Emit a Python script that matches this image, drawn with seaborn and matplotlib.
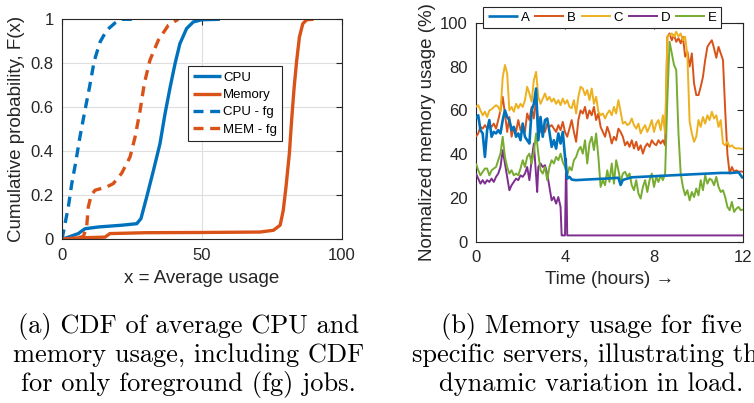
import numpy as np
import pandas as pd
import matplotlib
matplotlib.use("Agg")
import matplotlib.pyplot as plt
import seaborn as sns

# ---------------- data: (a) CDFs ----------------
CPU_X = [0, 2.3, 5.8, 8.2, 13.0, 21.3, 26.7, 28.2, 30.2, 32.6, 35.0, 36.8, 38.6, 40.4, 42.1, 44.5, 46.9, 49.9, 56.4]
CPU_F = [0, 0.01, 0.026, 0.048, 0.056, 0.064, 0.071, 0.094, 0.19, 0.31, 0.435, 0.571, 0.69, 0.80, 0.889, 0.958, 0.988, 0.998, 1.0]

MEM_X = [0, 5, 10, 15.4, 17.1, 30, 50, 70.7, 75.5, 77.9, 79.0, 80.0, 81.2, 82.0, 82.9, 83.8, 84.8, 86.0, 87.4, 89.8]
MEM_F = [0, 0.006, 0.008, 0.01, 0.026, 0.03, 0.031, 0.033, 0.041, 0.064, 0.13, 0.238, 0.39, 0.54, 0.69, 0.81, 0.92, 0.98, 0.998, 1.0]

CPUFG_X = [0, 1.07, 2.26, 3.45, 4.9, 6.4, 8.2, 9.8, 11.5, 13.6, 15.95, 18.9, 21.3, 27.3]
CPUFG_F = [0, 0.07, 0.147, 0.25, 0.35, 0.465, 0.586, 0.69, 0.81, 0.897, 0.95, 0.983, 1.0, 1.0]

MEMFG_X = [0, 4, 7.6, 8.8, 9.4, 10.4, 11.8, 15.95, 18.3, 21.3, 24.3, 26.1, 27.9, 29.4, 31.4, 34.4, 37.98, 41.5]
MEMFG_F = [0, 0.005, 0.012, 0.056, 0.147, 0.2, 0.223, 0.238, 0.253, 0.3, 0.374, 0.465, 0.586, 0.708, 0.814, 0.905, 0.973, 1.0]

CDF_LABELS = ["CPU", "Memory", "CPU - fg", "MEM - fg"]

# ---------------- data: (b) memory usage of five servers ----------------
HOURS = [0.0, 0.1, 0.2, 0.3, 0.4, 0.5, 0.6, 0.7, 0.8, 0.9,
         1.0, 1.1, 1.2, 1.3, 1.4, 1.5, 1.6, 1.7, 1.8, 1.9,
         2.0, 2.1, 2.2, 2.3, 2.4, 2.5, 2.6, 2.7, 2.8, 2.9,
         3.0, 3.1, 3.2, 3.3, 3.4, 3.5, 3.6, 3.7, 3.8, 3.9,
         4.0, 4.1, 4.2, 4.3, 4.4, 4.5, 4.6, 4.7, 4.8, 4.9,
         5.0, 5.1, 5.2, 5.3, 5.4, 5.5, 5.6, 5.7, 5.8, 5.9,
         6.0, 6.1, 6.2, 6.3, 6.4, 6.5, 6.6, 6.7, 6.8, 6.9,
         7.0, 7.1, 7.2, 7.3, 7.4, 7.5, 7.6, 7.7, 7.8, 7.9,
         8.0, 8.1, 8.2, 8.3, 8.4, 8.5, 8.6, 8.7, 8.8, 8.9,
         9.0, 9.1, 9.2, 9.3, 9.4, 9.5, 9.6, 9.7, 9.8, 9.9,
         10.0, 10.1, 10.2, 10.3, 10.4, 10.5, 10.6, 10.7, 10.8, 10.9,
         11.0, 11.1, 11.2, 11.3, 11.4, 11.5, 11.6, 11.7, 11.8, 11.9,
         12.0]

SERVER_B = [48, 49.5, 52.5, 51.7, 53.3, 51.7, 53.3, 52.5, 54, 51.7,
            55.6, 60, 66.2, 58.6, 50.2, 57, 48, 52.5, 50.2, 55.6,
            51, 53.3, 50.2, 58.6, 55.6, 61.6, 56.3, 64.7, 54, 50.2,
            51.7, 50.2, 54, 52.5, 53.3, 51.7, 50.2, 53.3, 51, 54.8,
            50.2, 48, 51.7, 55.6, 50.2, 45.7, 55.6, 60, 58.6, 61.6,
            56.3, 60, 57.8, 61.6, 55.6, 58.6, 52.5, 50.2, 48, 52.5,
            49.5, 44.9, 48, 46.4, 51.7, 50.2, 48, 44.1, 45.7, 43.4,
            46.4, 42.6, 45.7, 41.9, 44.1, 40.3, 43.4, 44.9, 43.4, 46.4,
            44.9, 44.1, 46.4, 44.9, 46.4, 44.1, 93.6, 95.1, 92, 94.4,
            91.3, 92.9, 90.6, 93.6, 84.5, 86.8, 80, 86, 72.3, 67,
            67, 70.8, 75.3, 83, 89, 90.6, 92, 88.3, 84, 89,
            86, 83, 60, 40, 31.2, 34.2, 32, 32.7, 32, 32.2,
            32]

SERVER_C = [61.6, 62.4, 60, 57.8, 59.4, 57, 60, 60.5, 61.5, 62.4,
            61.6, 59.4, 75, 80.7, 76.9, 60, 61.6, 59.4, 63, 61,
            63, 61.6, 64.7, 70.8, 67.7, 64, 73.8, 77.6, 66.2, 63,
            65.4, 67.7, 64.7, 66.2, 64, 65.4, 63, 64.7, 62.4, 65.4,
            63, 64.7, 61.6, 61, 64.7, 58.6, 66.2, 70.8, 70, 67,
            69.3, 64.7, 70, 63, 66.2, 59.4, 57.8, 58.6, 56.3, 58.6,
            60, 57.8, 61.6, 58.6, 64.7, 59.4, 54, 54.8, 53.3, 54,
            56.3, 53.3, 51.7, 54, 49.5, 51.7, 53.3, 50.2, 52.5, 55.6,
            50.2, 54, 55.6, 51, 57.8, 49.5, 93.6, 94.4, 95.1, 93.6,
            95.9, 93.6, 95.1, 92, 93.6, 85, 55, 49.5, 45.7, 48,
            55.6, 52.5, 57, 54, 57.8, 55.6, 59.4, 56.3, 57.8, 52.5,
            55.6, 44.9, 44.1, 45.7, 43.4, 44.1, 43, 42.6, 42.8, 42.5,
            42.6]

SERVER_E = [35.8, 32.7, 30.4, 32, 33.5, 33.5, 30.4, 32.7, 33.5, 34.2,
            37.3, 40.3, 48, 38.8, 34.2, 31.2, 32.7, 30.4, 31.2, 30.4,
            33.5, 37.3, 34.2, 38.8, 40.3, 35.8, 41.1, 49.5, 40.3, 32.7,
            31.2, 34.2, 28.2, 34.2, 37.3, 35.8, 38.8, 37.3, 40.3, 36.5,
            34.2, 30.4, 34.2, 32.7, 37.3, 38.8, 41.9, 43.4, 40.3, 46.4,
            35.8, 44.9, 48, 41.9, 49.5, 38.8, 25.1, 28.2, 25.9, 32.7,
            27.4, 35.8, 26.6, 37.3, 32.7, 27.4, 31.2, 32, 29.7, 31.2,
            25.9, 23.6, 28.2, 22.1, 19.8, 25.1, 28.2, 22.8, 28.2, 31.2,
            25.1, 29.7, 27.4, 30.4, 28.2, 31.2, 64.7, 91.3, 86, 80.7,
            78.4, 49.5, 31.2, 25.1, 21.3, 23.6, 19, 22.8, 20.5, 24.4,
            21.3, 28.2, 23.6, 30.4, 26.6, 28.9, 28.2, 25.9, 29.7, 25.1,
            22.8, 23.6, 20.5, 16, 14.5, 18.3, 13.7, 15.2, 16, 14.5,
            14.8]

HOURS_A = [0.0, 0.1, 0.2, 0.3, 0.4, 0.5, 0.6, 0.7, 0.8, 0.9,
           1.0, 1.1, 1.2, 1.3, 1.4, 1.5, 1.6, 1.7, 1.8, 1.9,
           2.0, 2.1, 2.2, 2.3, 2.4, 2.5, 2.6, 2.7, 2.8, 2.9,
           3.0, 3.1, 3.2, 3.3, 3.4, 3.5, 3.6, 3.7, 3.8, 3.9,
           4.0, 4.1, 4.2, 4.3, 4.4, 4.5, 5.0, 6.0, 6.4, 6.5,
           6.6, 7.0, 8.0, 9.0, 10.0, 11.0, 11.5, 11.8, 12.0]
SERVER_A = [56.3, 57.8, 51, 49.5, 38.8, 51, 55.6, 48, 50.2, 49.5,
            51, 49.5, 55.6, 60, 57, 55.6, 51, 52.5, 48, 49.5,
            46.4, 54, 48, 46.4, 44.9, 60, 63, 70, 46.4, 57,
            48, 55.6, 56.3, 50.2, 43.4, 46.4, 42.6, 49.5, 44.9, 50.2,
            38.8, 28.9, 29.7, 28.5, 28.3, 28.2, 28.5, 29, 29.3, 26,
            28.3, 29.5, 30, 30.5, 31, 31.5, 31.5, 31.8, 29]

HOURS_D = [0.0, 0.1, 0.2, 0.3, 0.4, 0.5, 0.6, 0.7, 0.8, 0.9,
           1.0, 1.1, 1.2, 1.3, 1.4, 1.5, 1.6, 1.7, 1.8, 1.9,
           2.0, 2.1, 2.2, 2.3, 2.4, 2.5, 2.6, 2.7, 2.75, 2.8, 2.9,
           3.0, 3.1, 3.2, 3.3, 3.4, 3.5, 3.6, 3.7, 3.8, 3.85, 3.9,
           4.0, 4.05, 4.1, 4.2, 12.0]
SERVER_D = [31.2, 28.9, 26.6, 28.2, 26.6, 28.2, 27.4, 28.9, 27.4, 29.7,
            31.2, 34.2, 41.9, 35.8, 29.7, 23.6, 25.9, 27.4, 28.9, 28.2,
            30.4, 29.7, 31.2, 34.2, 28.2, 37.3, 44.9, 30.4, 22.8, 34.2, 35.8,
            34.2, 35, 31.2, 25.1, 19, 20.5, 17.5, 20.5, 16, 3, 3,
            3, 38, 3, 3, 3]

SERVER_NAMES = ["A", "B", "C", "D", "E"]
COLORS = {"A": "#0072BD", "B": "#D95319", "C": "#EDB120", "D": "#7E2F8E", "E": "#77AC30"}

CAPTION_A = ["(a) CDF of average CPU and",
             "memory usage, including CDF",
             "for only foreground (fg) jobs."]
CAPTION_B = ["(b) Memory usage for five",
             "specific servers, illustrating the",
             "dynamic variation in load."]

# ---------------- figure ----------------
sns.set_style("white")
plt.rcParams["font.family"] = ["Liberation Sans", "DejaVu Sans"]
plt.rcParams["lines.solid_capstyle"] = "butt"

W, H = 754, 403
fig = plt.figure(figsize=(W / 100, H / 100), dpi=100)


def px_axes(l, t, r, b):
    return fig.add_axes([l / W, 1 - b / H, (r - l) / W, (b - t) / H])


TXT = "#262626"


def style(ax):
    for s in ax.spines.values():
        s.set_visible(True)
        s.set_color(TXT)
        s.set_linewidth(0.8)
    ax.tick_params(direction="in", length=4, width=0.8, top=True, right=True,
                   colors=TXT, labelsize=12, pad=6)


ax1 = px_axes(62, 19.3, 342, 239.3)
ax2 = px_axes(476, 22.7, 743, 242)

# (a)
dash = (0, (3.0, 2.0))
curves = [(CPU_X, CPU_F, COLORS["A"], "-"),
          (MEM_X, MEM_F, COLORS["B"], "-"),
          (CPUFG_X, CPUFG_F, COLORS["A"], dash),
          (MEMFG_X, MEMFG_F, COLORS["B"], dash)]
for (xs, fs, c, ls), lab in zip(curves, CDF_LABELS):
    sns.lineplot(x=xs, y=fs, ax=ax1, color=c, linewidth=2.4, linestyle=ls,
                 label=lab, estimator=None, sort=False)
ax1.set_xlim(0, 100)
ax1.set_ylim(0, 1)
ax1.set_xticks([0, 50, 100])
ax1.set_xticklabels(["0", "50", "100"])
ax1.set_yticks([0, 0.2, 0.4, 0.6, 0.8, 1])
ax1.set_yticklabels(["0", "0.2", "0.4", "0.6", "0.8", "1"])
ax1.grid(True, color="#dedede", linewidth=0.8)
ax1.set_axisbelow(True)
style(ax1)
ax1.set_xlabel("x = Average usage", fontsize=13.5, color=TXT, labelpad=5)
ax1.set_ylabel("Cumulative probability, F(x)", fontsize=13.5, color=TXT, labelpad=4)
h, l = ax1.get_legend_handles_labels()
leg1 = ax1.legend(h, l, loc="upper left", bbox_to_anchor=(0.45, 0.786),
                  borderaxespad=0, fontsize=9.5, frameon=True, fancybox=False,
                  edgecolor=TXT, handlelength=2.1, handletextpad=0.15,
                  labelspacing=0.38, borderpad=0.4, framealpha=1)
leg1.get_frame().set_linewidth(0.8)
for t in leg1.get_texts():
    t.set_color("black")

# (b)
frames = [pd.DataFrame({"t": HOURS_A, "v": SERVER_A, "server": "A"}),
          pd.DataFrame({"t": HOURS, "v": SERVER_B, "server": "B"}),
          pd.DataFrame({"t": HOURS, "v": SERVER_C, "server": "C"}),
          pd.DataFrame({"t": HOURS_D, "v": SERVER_D, "server": "D"}),
          pd.DataFrame({"t": HOURS, "v": SERVER_E, "server": "E"})]
df = pd.concat(frames, ignore_index=True)
for name in SERVER_NAMES:
    sub = df[df["server"] == name]
    sns.lineplot(data=sub, x="t", y="v", ax=ax2, color=COLORS[name],
                 linewidth=1.9 if name == "A" else 1.4, label=name,
                 estimator=None, sort=False, zorder=5 if name == "A" else 3)
ax2.set_xlim(0, 12)
ax2.set_ylim(0, 100)
ax2.set_xticks([0, 4, 8, 12])
ax2.set_xticklabels(["0", "4", "8", "12"])
ax2.set_yticks([0, 20, 40, 60, 80, 100])
ax2.set_yticklabels(["0", "20", "40", "60", "80", "100"])
style(ax2)
ax2.set_xlabel("Time (hours) \u2192", fontsize=13.5, color=TXT, labelpad=4)
ax2.set_ylabel("Normalized memory usage (%)", fontsize=13.5, color=TXT, labelpad=3)
h, l = ax2.get_legend_handles_labels()
leg2 = ax2.legend(h, l, loc="upper left", bbox_to_anchor=(483 / W, 1 - 7 / H),
                  bbox_transform=fig.transFigure, ncol=5, borderaxespad=0,
                  fontsize=9.5, frameon=True, fancybox=False, edgecolor=TXT,
                  handlelength=2.3, handletextpad=0.2, columnspacing=0.35,
                  borderpad=0.35, framealpha=1)
leg2.get_frame().set_linewidth(0.8)
leg2.set_zorder(10)
for t in leg2.get_texts():
    t.set_color("black")

# captions
cap_kw = dict(family="cmr10", fontsize=19, ha="center", va="baseline", color="black")
for i, line in enumerate(CAPTION_A):
    fig.text(188.5 / W, 1 - (333 + 29 * i) / H, line, **cap_kw)
for i, line in enumerate(CAPTION_B):
    fig.text(591 / W, 1 - (333 + 29 * i) / H, line, **cap_kw)

fig.savefig("out.png", dpi=100)
